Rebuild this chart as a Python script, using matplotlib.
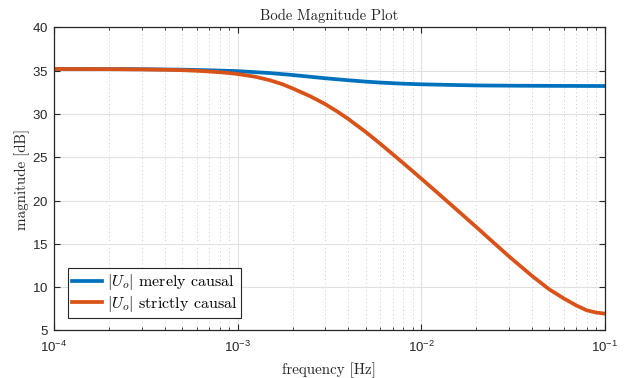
import numpy as np
import matplotlib
matplotlib.use("Agg")
import matplotlib.pyplot as plt
from matplotlib.ticker import FixedLocator, FixedFormatter, LogLocator, NullFormatter

plt.rcParams["mathtext.fontset"] = "cm"
plt.rcParams["axes.formatter.use_mathtext"] = True

# Frequency samples [Hz] and magnitudes [dB]
freq_merely = [1e-4, 2e-4, 3e-4, 5e-4, 7e-4, 1e-3, 1.5e-3, 2e-3, 3e-3, 4e-3,
               5e-3, 6e-3, 8e-3, 1e-2, 1.5e-2, 2e-2, 3e-2, 5e-2, 1e-1]
mag_merely = [35.2, 35.19, 35.17, 35.12, 35.05, 34.95, 34.73, 34.5, 34.13, 33.9,
              33.74, 33.63, 33.5, 33.43, 33.35, 33.3, 33.27, 33.25, 33.23]

freq_strict = [1e-4, 2e-4, 3e-4, 4e-4, 5e-4, 6e-4, 7e-4, 8e-4, 9e-4, 1e-3,
               1.25e-3, 1.5e-3, 1.75e-3, 2e-3, 2.5e-3, 3e-3, 3.5e-3, 4e-3,
               5e-3, 6e-3, 7e-3, 8e-3, 9e-3, 1e-2, 1.25e-2, 1.5e-2, 2e-2,
               2.5e-2, 3e-2, 4e-2, 5e-2, 6e-2, 7e-2, 8e-2, 9e-2, 1e-1]
mag_strict = [35.2, 35.18, 35.15, 35.11, 35.06, 34.99, 34.91, 34.82, 34.73, 34.62,
              34.3, 33.9, 33.45, 32.95, 32.03, 31.15, 30.28, 29.45,
              27.92, 26.56, 25.37, 24.33, 23.4, 22.56, 20.77, 19.29, 16.95,
              15.1, 13.6, 11.35, 9.75, 8.7, 7.9, 7.33, 7.07, 6.95]

labels = [r"$|U_o|$ merely causal", r"$|U_o|$ strictly causal"]
colors = ["#0072BD", "#D95319"]

x_ticks = [1e-4, 1e-3, 1e-2, 1e-1]
x_ticklabels = [r"$\mathregular{10^{-4}}$", r"$\mathregular{10^{-3}}$",
                r"$\mathregular{10^{-2}}$", r"$\mathregular{10^{-1}}$"]
y_ticks = [5, 10, 15, 20, 25, 30, 35, 40]

serif = "cmr10"
sans = "Liberation Sans"
ink = "#262626"

fig = plt.figure(figsize=(6.26, 3.78), dpi=100)
ax = fig.add_axes([0.0863, 0.1257, 0.8794, 0.8018])

ax.plot(freq_merely, mag_merely, color=colors[0], lw=2.7, label=labels[0])
ax.plot(freq_strict, mag_strict, color=colors[1], lw=2.7, label=labels[1])

ax.set_xscale("log")
ax.set_xlim(1e-4, 1e-1)
ax.set_ylim(5, 40)

ax.xaxis.set_major_locator(FixedLocator(x_ticks))
ax.xaxis.set_major_formatter(FixedFormatter(x_ticklabels))
ax.xaxis.set_minor_locator(LogLocator(base=10, subs=np.arange(2, 10)))
ax.xaxis.set_minor_formatter(NullFormatter())
ax.set_yticks(y_ticks)

for lab in ax.get_xticklabels() + ax.get_yticklabels():
    lab.set_fontfamily(sans)
    lab.set_fontsize(9.5)
    lab.set_color(ink)

ax.grid(True, which="major", color="#e0e0e0", lw=0.8)
ax.grid(True, which="minor", axis="x", color="#c8c8c8", lw=0.7, ls=(0, (1, 3)))
ax.set_axisbelow(True)

ax.tick_params(which="both", direction="in", top=True, right=True, color=ink)
ax.tick_params(which="major", length=4, width=0.8)
ax.tick_params(axis="y", which="major", pad=4)
ax.tick_params(axis="x", which="major", pad=7)
ax.tick_params(which="minor", length=2, width=0.6)
for s in ax.spines.values():
    s.set_color(ink)
    s.set_linewidth(0.9)

ax.set_title("Bode Magnitude Plot", fontfamily=serif, fontsize=10.6,
             color=ink, pad=5)
ax.set_xlabel("frequency [Hz]", fontfamily=serif, fontsize=10.8, color=ink,
              labelpad=5)
ax.set_ylabel("magnitude [dB]", fontfamily=serif, fontsize=10.8, color=ink,
              labelpad=1.5)

leg = ax.legend(loc="lower left", bbox_to_anchor=(0.025, 0.042),
                prop={"family": serif, "size": 11.5}, fancybox=False,
                framealpha=1, edgecolor=ink, handlelength=1.9,
                handletextpad=0.3, borderpad=0.25, labelspacing=0.1,
                borderaxespad=0)
leg.get_frame().set_linewidth(0.8)

fig.savefig("out.png", dpi=100)
